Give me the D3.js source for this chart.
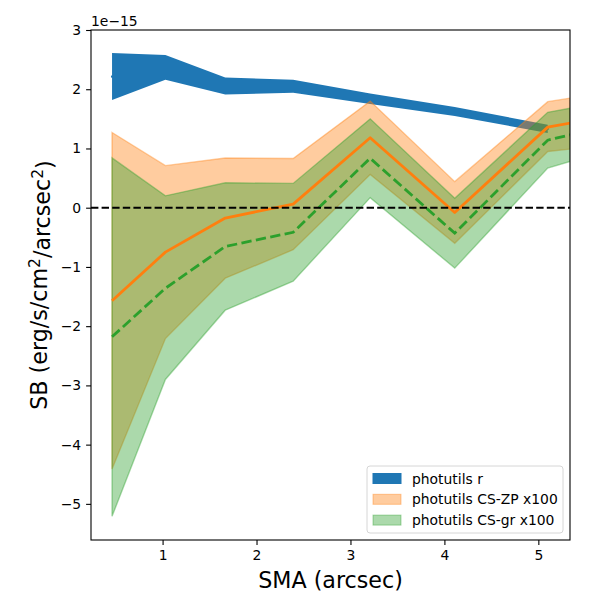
<!DOCTYPE html>
<html>
<head>
<meta charset="utf-8">
<script src="https://cdn.jsdelivr.net/npm/d3@7"></script>
<style>
  body { margin: 0; background: white; }
  text { font-family: "DejaVu Sans", sans-serif; }
</style>
</head>
<body>
<div id="chart"></div>
<script>
// SMA positions (arcsec)
var sma_r = [0.462, 1.03, 1.667, 2.39, 3.21, 4.11, 5.10];
var sma_cs = [0.462, 1.03, 1.667, 2.39, 3.21, 4.11, 5.10, 5.34];

// photutils r band (units of 1e-15)
var r_lo = [1.82, 2.16, 1.91, 1.94, 1.75, 1.55, 1.26];
var r_hi = [2.61, 2.58, 2.20, 2.16, 1.93, 1.70, 1.40];
var r_mid = [2.215, 2.37, 2.055, 2.05, 1.84, 1.625, 1.33];

// photutils CS-ZP x100
var zp_mid = [-1.57, -0.75, -0.175, 0.06, 1.18, -0.08, 1.36, 1.43];
var zp_lo = [-4.41, -2.21, -1.19, -0.71, 0.56, -0.60, 0.95, 0.99];
var zp_hi = [1.27, 0.71, 0.84, 0.83, 1.80, 0.44, 1.79, 1.85];

// photutils CS-gr x100
var gr_mid = [-2.18, -1.36, -0.655, -0.415, 0.835, -0.43, 1.14, 1.23];
var gr_lo = [-5.21, -2.90, -1.73, -1.24, 0.17, -1.02, 0.67, 0.78];
var gr_hi = [0.84, 0.20, 0.42, 0.41, 1.50, 0.16, 1.61, 1.68];

var x_ticks = [1, 2, 3, 4, 5];
var y_ticks = [-5, -4, -3, -2, -1, 0, 1, 2, 3];
var legend_labels = ["photutils r", "photutils CS-ZP x100", "photutils CS-gr x100"];

var colors = {
    "blue": "#1f77b4",
    "orange": "#ff7f0e",
    "green": "#2ca02c"
};

var W = 600, H = 600;
var m = {left: 91, right: 570, top: 30, bottom: 540};

var svg = d3.select('#chart').append('svg')
    .attr('width', W)
    .attr('height', H);

var x = d3.scaleLinear().domain([0.238, 5.337]).range([m.left, m.right]);
var y = d3.scaleLinear().domain([-5.61, 3.0]).range([m.bottom, m.top]);

svg.append('clipPath').attr('id', 'clip')
    .append('rect')
    .attr('x', m.left).attr('y', m.top)
    .attr('width', m.right - m.left).attr('height', m.bottom - m.top);

var plot = svg.append('g').attr('clip-path', 'url(#clip)');

function band(xs, lo, hi){
    return d3.area()
        .x(function(d, i){ return x(xs[i]); })
        .y0(function(d, i){ return y(lo[i]); })
        .y1(function(d, i){ return y(hi[i]); })(lo);
}
function line(xs, ys){
    return d3.line()
        .x(function(d, i){ return x(xs[i]); })
        .y(function(d){ return y(d); })(ys);
}

// r band: line under an opaque fill
plot.append('path')
    .attr('d', line(sma_r, r_mid))
    .attr('fill', 'none')
    .attr('stroke', colors.blue)
    .attr('stroke-width', 2)
    .attr('stroke-linecap', 'square');
plot.append('path')
    .attr('d', band(sma_r, r_lo, r_hi))
    .attr('fill', colors.blue);

// CS fills
plot.append('path')
    .attr('d', band(sma_cs, zp_lo, zp_hi))
    .attr('fill', colors.orange)
    .attr('fill-opacity', 0.4)
    .attr('stroke', colors.orange)
    .attr('stroke-opacity', 0.4)
    .attr('stroke-width', 1.4);
plot.append('path')
    .attr('d', band(sma_cs, gr_lo, gr_hi))
    .attr('fill', colors.green)
    .attr('fill-opacity', 0.4)
    .attr('stroke', colors.green)
    .attr('stroke-opacity', 0.4)
    .attr('stroke-width', 1.4);

// CS central lines
plot.append('path')
    .attr('d', line(sma_cs, zp_mid))
    .attr('fill', 'none')
    .attr('stroke', colors.orange)
    .attr('stroke-width', 2.8)
    .attr('stroke-linejoin', 'round');
plot.append('path')
    .attr('d', line(sma_cs, gr_mid))
    .attr('fill', 'none')
    .attr('stroke', colors.green)
    .attr('stroke-width', 2.8)
    .attr('stroke-dasharray', '10.3,4.4');

// zero line
plot.append('line')
    .attr('x1', m.left).attr('x2', m.right)
    .attr('y1', y(0)).attr('y2', y(0))
    .attr('stroke', 'black')
    .attr('stroke-width', 2)
    .attr('stroke-dasharray', '7.4,3.2');

// axes
var xAxis = svg.append('g')
    .attr('transform', 'translate(0,' + m.bottom + ')')
    .call(d3.axisBottom(x).tickValues(x_ticks).tickSize(4.9).tickPadding(4.9).tickFormat(d3.format('d')));
var yAxis = svg.append('g')
    .attr('transform', 'translate(' + m.left + ',0)')
    .call(d3.axisLeft(y).tickValues(y_ticks).tickSize(4.9).tickPadding(4.9)
        .tickFormat(function(d){ return d < 0 ? '\u2212' + Math.abs(d) : d; }));
[xAxis, yAxis].forEach(function(a){
    a.select('.domain').remove();
    a.selectAll('line').attr('stroke', 'black').attr('stroke-width', 1.1);
    a.selectAll('text').attr('font-size', '13.9px').attr('fill', 'black')
        .attr('font-family', '"DejaVu Sans", sans-serif');
});

// frame
svg.append('rect')
    .attr('x', m.left).attr('y', m.top)
    .attr('width', m.right - m.left).attr('height', m.bottom - m.top)
    .attr('fill', 'none')
    .attr('stroke', 'black')
    .attr('stroke-width', 1.1);

// offset text
svg.append('text')
    .attr('x', m.left).attr('y', 26)
    .attr('font-size', '13.9px')
    .text('1e\u221215');

// axis labels
svg.append('text')
    .attr('x', (m.left + m.right) / 2).attr('y', 588)
    .attr('text-anchor', 'middle')
    .attr('font-size', '22.2px')
    .text('SMA (arcsec)');

var ylab = svg.append('text')
    .attr('transform', 'translate(47,' + ((m.top + m.bottom) / 2) + ') rotate(-90)')
    .attr('text-anchor', 'middle')
    .attr('font-size', '22.2px');
ylab.append('tspan').text('SB (erg/s/cm');
ylab.append('tspan').attr('dy', '-0.45em').attr('font-size', '15.5px').text('2');
ylab.append('tspan').attr('dy', '0.45em').text('/arcsec');
ylab.append('tspan').attr('dy', '-0.45em').attr('font-size', '15.5px').text('2');
ylab.append('tspan').attr('dy', '0.45em').text(')');

// legend
var leg = svg.append('g');
leg.append('rect')
    .attr('x', 367).attr('y', 466)
    .attr('width', 196).attr('height', 67)
    .attr('rx', 3)
    .attr('fill', 'white').attr('fill-opacity', 0.8)
    .attr('stroke', '#d6d6d6').attr('stroke-width', 1);
var leg_fill = [
    {c: colors.blue, o: 1},
    {c: colors.orange, o: 0.4},
    {c: colors.green, o: 0.4}
];
var rows = leg.selectAll('g.row')
    .data(legend_labels)
    .enter()
    .append('g')
    .attr('class', 'row')
    .attr('transform', function(d, i){ return 'translate(0,' + (473.5 + i * 20.8) + ')'; });
rows.append('rect')
    .attr('x', 373).attr('y', 0)
    .attr('width', 28).attr('height', 10)
    .attr('fill', function(d, i){ return leg_fill[i].c; })
    .attr('fill-opacity', function(d, i){ return leg_fill[i].o; })
    .attr('stroke', function(d, i){ return leg_fill[i].c; })
    .attr('stroke-opacity', function(d, i){ return leg_fill[i].o; });
rows.append('text')
    .attr('x', 412).attr('y', 10)
    .attr('font-size', '13.9px')
    .text(function(d){ return d; });
</script>
</body>
</html>
